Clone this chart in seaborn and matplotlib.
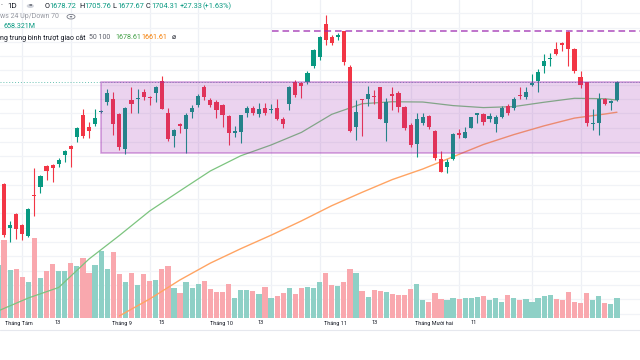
import numpy as np
import matplotlib
matplotlib.use("Agg")
import matplotlib.pyplot as plt
import seaborn as sns
from matplotlib.patches import Rectangle, Ellipse, Circle

# ---------------- data ----------------
opens = [1538.9, 1560.8, 1499.3, 1519.3, 1503.9, 1488.9, 1545.6, 1556.6, 1586.4, 1587.8,
         1589.2, 1601.8, 1614.4, 1627.4, 1657.7, 1640.5, 1645.1, 1661.5, 1675.5, 1680.1,
         1659.1, 1610.2, 1678.7, 1679.7, 1690.3, 1682.5, 1688.1, 1705.7, 1660.1, 1628.8,
         1645.1, 1638.1, 1661.5, 1671.7, 1697.3, 1678.7, 1676.3, 1671.7, 1656.3, 1633.0,
         1634.4, 1660.1, 1667.1, 1659.1, 1667.9, 1664.7, 1667.9, 1652.1, 1673.1, 1704.3,
         1702.1, 1704.3, 1726.3, 1738.4, 1785.0, 1767.2, 1766.4, 1775.6, 1724.4, 1640.5,
         1679.7, 1680.1, 1684.7, 1696.5, 1647.0, 1686.7, 1688.9, 1668.5, 1643.7, 1617.2,
         1647.0, 1656.3, 1635.8, 1595.8, 1584.6, 1595.8, 1632.1, 1626.0, 1640.0, 1657.7,
         1658.7, 1651.7, 1645.1, 1655.3, 1670.3, 1667.1, 1685.7, 1683.3, 1699.3, 1705.3,
         1726.7, 1736.0, 1749.6, 1758.8, 1774.2, 1750.0, 1710.4, 1703.5, 1645.1, 1647.0,
         1679.7, 1674.9, 1678.72]
highs = [1558.4, 1563.0, 1509.5, 1520.7, 1505.3, 1527.7, 1583.6, 1573.8, 1587.8, 1589.2,
         1597.2, 1608.1, 1615.8, 1641.6, 1665.7, 1648.4, 1665.7, 1664.7, 1693.7, 1689.5,
         1661.2, 1668.9, 1697.3, 1693.7, 1693.7, 1684.3, 1698.3, 1712.3, 1667.9, 1638.1,
         1647.0, 1660.1, 1671.7, 1687.1, 1699.7, 1681.1, 1678.7, 1673.1, 1657.7, 1642.3,
         1657.7, 1670.3, 1670.3, 1674.1, 1674.1, 1673.1, 1680.1, 1655.3, 1698.3, 1706.7,
         1704.3, 1719.3, 1749.6, 1768.2, 1797.6, 1769.6, 1772.0, 1775.6, 1727.7, 1678.7,
         1680.1, 1698.3, 1692.7, 1697.3, 1681.1, 1696.5, 1691.7, 1670.3, 1646.1, 1660.1,
         1660.1, 1657.7, 1636.7, 1607.8, 1595.8, 1632.1, 1637.7, 1641.4, 1655.3, 1660.9,
         1660.9, 1660.1, 1657.7, 1670.3, 1673.1, 1682.5, 1696.5, 1696.5, 1715.1, 1721.6,
         1743.0, 1744.0, 1760.2, 1760.2, 1775.6, 1751.0, 1719.7, 1704.3, 1665.7, 1688.1,
         1681.1, 1678.7, 1705.76]
lows = [1536.1, 1487.5, 1480.5, 1484.3, 1482.9, 1487.1, 1516.5, 1549.3, 1566.4, 1563.6,
        1585.4, 1592.0, 1584.6, 1619.5, 1625.1, 1625.1, 1642.3, 1660.5, 1671.7, 1629.7,
        1608.8, 1603.2, 1660.1, 1660.1, 1678.7, 1671.7, 1676.3, 1666.1, 1621.4, 1612.5,
        1632.1, 1604.2, 1653.1, 1668.5, 1678.7, 1669.3, 1653.1, 1641.4, 1615.8, 1627.4,
        1618.1, 1655.3, 1657.7, 1655.3, 1657.7, 1660.1, 1650.7, 1639.1, 1664.7, 1683.3,
        1681.1, 1701.1, 1723.0, 1734.6, 1755.6, 1755.6, 1762.6, 1727.7, 1634.4, 1622.8,
        1628.4, 1670.3, 1673.1, 1651.7, 1621.8, 1664.7, 1662.3, 1636.7, 1613.4, 1599.4,
        1643.7, 1638.1, 1594.8, 1578.4, 1577.0, 1594.8, 1625.1, 1625.1, 1639.1, 1647.0,
        1643.7, 1648.4, 1634.4, 1653.1, 1657.7, 1664.7, 1679.7, 1679.7, 1698.3, 1690.3,
        1716.0, 1726.3, 1741.6, 1747.7, 1726.3, 1716.0, 1695.1, 1642.3, 1636.7, 1629.7,
        1671.7, 1664.7, 1677.67]
closes = [1555.6, 1489.9, 1503.9, 1497.9, 1491.3, 1525.8, 1544.2, 1572.0, 1579.8, 1583.2,
          1595.5, 1606.7, 1610.2, 1640.0, 1628.8, 1635.8, 1653.1, 1663.7, 1688.9, 1645.1,
          1612.5, 1667.1, 1673.1, 1681.1, 1682.5, 1681.1, 1696.5, 1666.1, 1624.2, 1636.7,
          1642.3, 1657.7, 1667.1, 1684.7, 1683.3, 1671.7, 1664.7, 1657.7, 1633.0, 1635.3,
          1657.7, 1667.1, 1660.1, 1665.7, 1660.9, 1665.7, 1652.1, 1645.1, 1696.5, 1685.7,
          1698.3, 1716.9, 1748.6, 1767.2, 1762.6, 1758.8, 1769.6, 1732.3, 1635.8, 1662.3,
          1678.7, 1687.1, 1683.3, 1652.1, 1676.3, 1684.7, 1668.5, 1639.1, 1615.8, 1651.7,
          1654.5, 1640.9, 1597.2, 1578.4, 1592.4, 1631.1, 1629.7, 1634.4, 1654.5, 1660.1,
          1648.4, 1656.3, 1654.5, 1667.9, 1660.1, 1680.1, 1684.3, 1690.3, 1702.1, 1718.3,
          1733.2, 1737.9, 1742.6, 1755.6, 1749.6, 1719.3, 1699.7, 1646.1, 1646.1, 1679.7,
          1673.1, 1677.7, 1704.31]
volumes_m = [1770, 2605, 1603, 1627, 1359, 1212, 2662, 1326, 1580, 1804,
             1570, 1570, 1837, 1737, 1994, 1493, 1770, 2248, 1627, 2214,
             1470, 1212, 1493, 1102, 1470, 1236, 1269, 1627, 1747, 1012,
             845, 1192, 1012, 1126, 1236, 959, 868, 868, 1136, 658,
             935, 925, 892, 802, 1035, 668, 745, 825, 992, 802,
             1012, 1035, 1002, 1212, 1493, 1102, 1079, 1212, 1627, 1513,
             902, 691, 925, 902, 868, 812, 758, 768, 959, 1126,
             611, 544, 825, 645, 591, 678, 635, 658, 658, 711,
             735, 591, 658, 534, 768, 678, 611, 635, 524, 658,
             725, 758, 635, 611, 878, 524, 501, 835, 601, 745,
             501, 478, 658.3]

ma50_idx = [0, 5, 10, 15, 20, 25, 30, 35, 40, 45, 50, 55, 60, 65, 70, 75, 80, 85, 90, 95, 100, 102]
ma50 = [1383.6, 1401.8, 1416.5, 1456.3, 1489.2, 1523.5, 1551.7, 1579.5, 1600.7, 1615.8, 1633.4,
        1658.7, 1673.5, 1676.3, 1675.9, 1670.9, 1668.1, 1669.5, 1675.6, 1681.1, 1680.5, 1678.61]
ma100_idx = [20, 25, 30, 35, 40, 45, 50, 55, 60, 65, 70, 75, 80, 85, 90, 95, 100, 102]
ma100 = [1376.7, 1400.4, 1427.1, 1450.6, 1470.7, 1489.6, 1509.6, 1530.9, 1549.6, 1567.5,
         1582.2, 1599.4, 1616.5, 1630.3, 1642.6, 1653.4, 1659.1, 1661.61]

box_start, box_low, box_high = 17, 1604.2, 1704.5
resistance_start, resistance_level = 45.1, 1775.2

grid_days = [4, 12, 25, 33, 45, 53, 68, 76, 88, 96]
date_label_pos = [3.41, 9.85, 20.5, 27.0, 36.9, 43.3, 55.7, 62.1, 71.9, 78.4]
date_labels = ["Tháng Tám", "13", "Tháng 9", "15", "Tháng 10", "13",
               "Tháng 11", "13", "Tháng Mười hai", "11"]

# ---------------- style ----------------
sns.set_theme(style="white")
plt.rcParams["font.family"] = ["Roboto", "DejaVu Sans"]

UP, DOWN = "#089981", "#F23645"
XLIM = (0.33, 105.8)
YLIM = (1373.8, 1818.6)
VOL_TOP = 318 * 33.4

fig = plt.figure(figsize=(6.4, 3.6), dpi=100)
rect = [0, 42 / 360, 1, 318 / 360]

axg = fig.add_axes(rect)
axg.set_zorder(0)
axv = fig.add_axes(rect, sharex=axg)
axv.set_zorder(1)
axv.patch.set_visible(False)
ax = fig.add_axes(rect, sharex=axg)
ax.set_zorder(2)
ax.patch.set_visible(False)

for a in (axg, axv, ax):
    for s in a.spines.values():
        s.set_visible(False)
    a.set_yticks([])
    a.tick_params(length=0)

axg.set_xlim(*XLIM)
axg.set_ylim(*YLIM)
axg.set_facecolor("white")
for g in grid_days:
    axg.axvline(g, color="#EEF0F5", lw=0.9)
for p in np.arange(1380, 1820, 20):
    axg.axhline(p, color="#F1F3F7", lw=0.9)
axg.tick_params(labelbottom=False)
axv.tick_params(labelbottom=False)

n = len(closes)
x = np.arange(n)
o = np.array(opens); c = np.array(closes); h = np.array(highs); l = np.array(lows)
up = c >= o
cols = np.where(up, UP, DOWN)

# volume
vcols = np.where(up, "#8ED0C6", "#F9A8AE")
axv.bar(x, volumes_m, width=0.86, color=vcols, linewidth=0)
axv.set_ylim(0, VOL_TOP)

# price
ax.set_ylim(*YLIM)
ax.axhline(closes[-1], color=UP, lw=0.7, ls=(0, (1, 2)), alpha=0.6, zorder=1)
sns.lineplot(x=ma50_idx, y=ma50, ax=ax, color="#7CC47F", lw=0.9, zorder=2)
sns.lineplot(x=ma100_idx, y=ma100, ax=ax, color="#FFA463", lw=1.0, zorder=2)
ax.vlines(x, l, h, colors=cols, lw=0.8, zorder=3)
ax.bar(x, np.maximum(np.abs(c - o), 1.0), bottom=np.minimum(o, c), width=0.68,
       color=cols, linewidth=0, zorder=3)

ax.add_patch(Rectangle((box_start, box_low), 120, box_high - box_low,
                       facecolor=(156 / 255, 39 / 255, 176 / 255, 0.2),
                       edgecolor=(156 / 255, 39 / 255, 176 / 255, 0.45), lw=1.1, zorder=4))
ax.hlines(resistance_level, resistance_start, 120, colors=[(156 / 255, 39 / 255, 176 / 255, 0.65)],
          lw=1.4, linestyles=[(0, (3.4, 2.0))], zorder=5)
ax.set_xlim(*XLIM)

ax.set_xticks(date_label_pos)
ax.set_xticklabels(date_labels, fontsize=4.0, color="#131722")
ax.tick_params(axis="x", pad=1.8, length=0)
ax.set_xlabel("")
ax.set_ylabel("")

fig.add_artist(plt.Line2D([0, 1], [30 / 360, 30 / 360], color="#E6E8EE", lw=0.8))

# ---------------- legend text ----------------
def T(px, py, s, color, size=5.1, **kw):
    fig.text(px / 640, 1 - py / 360, s, color=color, fontsize=size, va="center", ha="left", **kw)

T(0.5, 6, "·", "#131722", 5.4)
T(7, 6, "1D", "#131722", 5.8)
fig.add_artist(Circle((30.3 / 640, 1 - 6 / 360), 3.6 / 640, transform=fig.transFigure,
                      facecolor="#D1D4DC", edgecolor="none"))
T(28.2, 6.2, "=", "#131722", 4.6)
for lab, val, px in [("O", "1678.72", 44.3), ("H", "1705.76", 79.3),
                     ("L", "1677.67", 112.7), ("C", "1704.31", 146.0)]:
    T(px, 6, lab, "#131722", 5.3)
    T(px + 4.9, 6, val, UP, 5.3)
T(180, 6, "+27.33", UP, 5.3)
T(202.7, 6, "(+1.63%)", UP, 5.3)

T(0, 16.7, "ws 24 Up/Down 70", "#9598A1", 5.0)
fig.add_artist(Ellipse((71 / 640, 1 - 16.7 / 360), 8 / 640, 4.6 / 360, transform=fig.transFigure,
                       facecolor="none", edgecolor="#787B86", lw=0.6))
fig.add_artist(Circle((71 / 640, 1 - 16.7 / 360), 1.3 / 640, transform=fig.transFigure,
                      facecolor="#787B86", edgecolor="none"))
T(3.3, 26.7, "658.321M", UP, 5.1)
T(0, 37.7, "ng trung bình trượt giao cắt", "#131722", 5.0)
T(89, 37.7, "50 100", "#5D606B", 5.0)
T(115, 37.7, "1678.61", "#43A047", 5.1)
T(141.7, 37.7, "1661.61", "#F57C00", 5.1)
T(172, 37.7, "⌀", "#131722", 5.1)

fig.savefig("out.png", dpi=100)
